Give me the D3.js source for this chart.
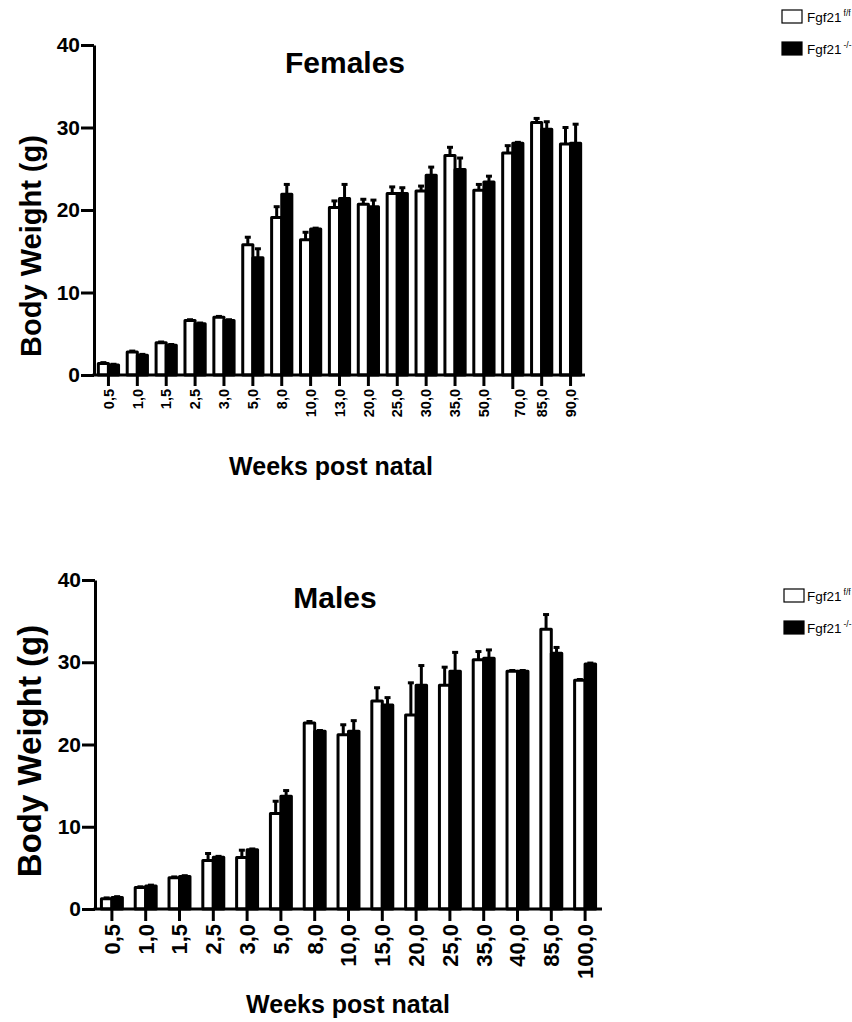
<!DOCTYPE html>
<html>
<head>
<meta charset="utf-8">
<script src="https://cdn.jsdelivr.net/npm/d3@7"></script>
<style>
body{margin:0;background:#fff;}
svg{display:block;font-family:"Liberation Sans",Arial,sans-serif;}
</style>
</head>
<body>
<svg width="852" height="1022"></svg>
<script>
// females
var femaleWeeks = ["0,5","1,0","1,5","2,5","3,0","5,0","8,0","10,0","13,0","20,0","25,0","30,0","35,0","50,0","70,0","85,0","90,0"];
var femaleFlox = [1.4, 2.8, 3.9, 6.6, 7.0, 15.8, 19.1, 16.4, 20.3, 20.7, 22.0, 22.3, 26.6, 22.4, 26.9, 30.6, 28.0];
var femaleFloxErr = [0.1, 0.1, 0.1, 0.1, 0.1, 0.9, 1.3, 0.9, 0.8, 0.6, 0.8, 0.6, 1.0, 0.7, 0.9, 0.5, 2.0];
var femaleKo = [1.2, 2.4, 3.6, 6.2, 6.6, 14.2, 21.9, 17.7, 21.4, 20.4, 22.0, 24.2, 24.9, 23.4, 28.1, 29.8, 28.1];
var femaleKoErr = [0.1, 0.1, 0.1, 0.1, 0.1, 1.1, 1.2, 0.1, 1.7, 0.8, 0.7, 1.0, 1.4, 0.7, 0.1, 0.9, 2.3];

// males
var maleWeeks = ["0,5","1,0","1,5","2,5","3,0","5,0","8,0","10,0","15,0","20,0","25,0","35,0","40,0","85,0","100,0"];
var maleFlox = [1.25, 2.6, 3.8, 5.9, 6.25, 11.6, 22.6, 21.2, 25.3, 23.6, 27.2, 30.3, 28.9, 34.0, 27.8];
var maleFloxErr = [0.1, 0.1, 0.1, 0.85, 0.9, 1.5, 0.2, 1.2, 1.6, 3.9, 2.2, 1.0, 0.1, 1.8, 0.1];
var maleKo = [1.4, 2.8, 3.95, 6.3, 7.2, 13.7, 21.6, 21.6, 24.8, 27.2, 28.9, 30.5, 28.9, 31.1, 29.8];
var maleKoErr = [0.1, 0.1, 0.1, 0.1, 0.1, 0.7, 0.1, 1.3, 0.9, 2.4, 2.3, 1.0, 0.1, 0.7, 0.1];

var yTicks = [0, 10, 20, 30, 40];
var groups = ["flox", "ko"];
var groupFill = {flox: "#fff", ko: "#000"};
var legendNames = [{base: "Fgf21", sup: "f/f"}, {base: "Fgf21", sup: "-/-"}];

var svg = d3.select("svg");

function panel(o){
	var g = svg.append("g");
	var x = d3.scaleBand().domain(o.weeks).range([o.left, o.right])
		.paddingInner(o.pad).paddingOuter(o.pad/2);
	var xs = d3.scaleBand().domain(groups).range([0, x.bandwidth()]);
	var y = d3.scaleLinear().domain([0, 40]).range([o.bottom, o.top]);

	var rows = o.weeks.map(function(w, i){
		return [
			{week: w, grp: "flox", v: o.flox[i], e: o.floxErr[i]},
			{week: w, grp: "ko", v: o.ko[i], e: o.koErr[i]}
		];
	});
	var flat = [].concat.apply([], rows);

	// error bars (up only) go under the bars
	var eb = g.append("g").attr("stroke", "#000").attr("stroke-width", 3);
	eb.selectAll("line.v").data(flat).enter().append("line")
		.attr("x1", function(d){ return x(d.week) + xs(d.grp) + xs.bandwidth()/2; })
		.attr("x2", function(d){ return x(d.week) + xs(d.grp) + xs.bandwidth()/2; })
		.attr("y1", function(d){ return y(d.v); })
		.attr("y2", function(d){ return y(d.v + d.e); });
	eb.selectAll("line.c").data(flat).enter().append("line")
		.attr("x1", function(d){ return x(d.week) + xs(d.grp) + xs.bandwidth()/2 - 3; })
		.attr("x2", function(d){ return x(d.week) + xs(d.grp) + xs.bandwidth()/2 + 3; })
		.attr("y1", function(d){ return y(d.v + d.e); })
		.attr("y2", function(d){ return y(d.v + d.e); });

	g.append("g").selectAll("rect").data(flat).enter().append("rect")
		.attr("x", function(d){ return x(d.week) + xs(d.grp); })
		.attr("y", function(d){ return y(d.v); })
		.attr("width", xs.bandwidth())
		.attr("height", function(d){ return y(0) - y(d.v); })
		.attr("fill", function(d){ return groupFill[d.grp]; })
		.attr("stroke", "#000")
		.attr("stroke-width", 3)
		.attr("stroke-linejoin", "round");

	var ya = g.append("g").attr("transform", "translate(" + o.left + ",0)")
		.call(d3.axisLeft(y).tickValues(yTicks).tickSize(13).tickSizeOuter(0).tickPadding(1));
	ya.selectAll("path,line").attr("stroke", "#000").attr("stroke-width", 3);
	ya.selectAll("text").attr("font-size", 21).attr("font-weight", "bold").attr("fill", "#000")
		.attr("font-family", "Liberation Sans, Arial, sans-serif");

	var xa = g.append("g").attr("transform", "translate(0," + o.bottom + ")")
		.call(d3.axisBottom(x).tickSize(o.tick).tickSizeOuter(0));
	xa.select("path").attr("stroke", "#000").attr("stroke-width", 3)
		.attr("d", "M" + (o.left - 1.5) + ",0H" + o.right);
	xa.selectAll("line").attr("stroke", "#000").attr("stroke-width", 3);
	xa.selectAll("text")
		.attr("transform", "rotate(-90)")
		.attr("text-anchor", "end")
		.attr("x", -(o.tick + 3))
		.attr("y", 0)
		.attr("dy", "0.36em")
		.attr("font-size", o.xFont)
		.attr("font-weight", "bold")
		.attr("fill", "#000")
		.attr("font-family", "Liberation Sans, Arial, sans-serif");
	if(o.shifted){
		xa.selectAll(".tick").filter(function(d){ return d == o.shifted; })
			.each(function(){
				d3.select(this).select("line").attr("y2", o.tick + 3);
				d3.select(this).select("text").attr("y", 7);
			});
	}

	g.append("text").attr("x", o.titleX).attr("y", o.top + 28)
		.attr("text-anchor", "middle").attr("font-size", 30).attr("font-weight", "bold")
		.text(o.title);
	g.append("text").attr("transform", "translate(" + 41 + "," + o.yLabelY + ") rotate(-90)")
		.attr("text-anchor", "middle").attr("font-size", o.yLabelFont).attr("font-weight", "bold")
		.text("Body Weight (g)");
	g.append("text").attr("x", o.xTitleX).attr("y", o.xTitleY)
		.attr("text-anchor", "middle").attr("font-size", 25).attr("font-weight", "bold")
		.text("Weeks post natal");

	var lg = g.selectAll("g.leg").data(groups).enter().append("g")
		.attr("transform", function(d, i){ return "translate(" + o.legX + "," + (o.legY + i*32) + ")"; });
	lg.append("rect").attr("x", 0).attr("y", 0).attr("width", 20).attr("height", 13)
		.attr("fill", function(d){ return groupFill[d]; }).attr("stroke", "#000").attr("stroke-width", 1.2);
	var lt = lg.append("text").attr("x", o.legTextX).attr("y", 12).attr("font-size", 13.5);
	lt.append("tspan").text(function(d, i){ return legendNames[i].base; });
	lt.append("tspan").attr("font-size", 8.5).attr("dx", 2).attr("dy", -6).text(function(d, i){ return legendNames[i].sup; });
}

panel({
	weeks: femaleWeeks, flox: femaleFlox, floxErr: femaleFloxErr, ko: femaleKo, koErr: femaleKoErr,
	left: 94, right: 585, top: 45, bottom: 375, pad: 0.3, tick: 11, xFont: 14.5, shifted: "70,0",
	title: "Females", titleX: 345, yLabelY: 246, yLabelFont: 29, xTitleX: 331, xTitleY: 475,
	legX: 782, legY: 10, legTextX: 25
});

panel({
	weeks: maleWeeks, flox: maleFlox, floxErr: maleFloxErr, ko: maleKo, koErr: maleKoErr,
	left: 95, right: 602, top: 580, bottom: 909, pad: 0.38, tick: 12, xFont: 22,
	title: "Males", titleX: 335, yLabelY: 751, yLabelFont: 33, xTitleX: 348, xTitleY: 1013,
	legX: 784, legY: 589, legTextX: 23
});
</script>
</body>
</html>
